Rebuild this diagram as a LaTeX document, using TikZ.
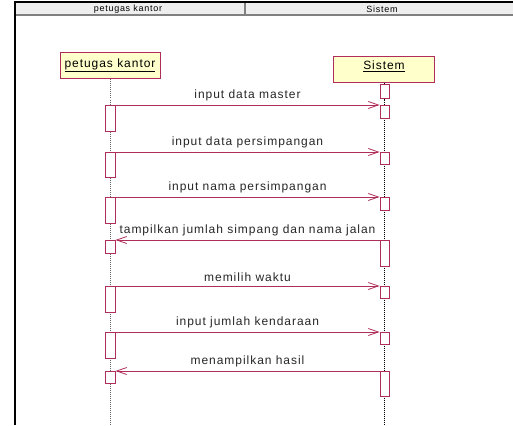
\documentclass[tikz,border=0pt]{standalone}
\usepackage{fontspec}
\setmainfont{Liberation Sans}
\newfontfamily\msgfont[LetterSpace=8]{Liberation Sans}
\usetikzlibrary{arrows.meta}
\definecolor{umlred}{RGB}{175,45,90}
\definecolor{umlfill}{RGB}{255,255,204}
\definecolor{headgray}{RGB}{238,238,238}
\begin{document}
\begin{tikzpicture}
  [x=1pt,y=-1pt,
   actor/.style={rectangle,draw=umlred,fill=umlfill,line width=1pt,minimum width=100pt,minimum height=26pt,
                 text depth=6pt,font=\msgfont\fontsize{12}{14}\selectfont},
   act/.style={rectangle,draw=umlred,fill=white,line width=1pt,minimum width=9pt,inner sep=0pt,anchor=north},
   msg/.style={draw=umlred,line width=0.8pt,-{Straight Barb[length=10pt,width=7pt]}},
   lbl/.style={font=\msgfont\fontsize{12}{14}\selectfont,above=0.5pt,text=black!85},
   lifeline/.style={densely dotted,line width=1pt}]
  \useasboundingbox (0,0) rectangle (513,425);
  % frame and header
  \fill[headgray] (15,3) rectangle (513,15);
  \draw[gray,line width=1.5pt] (15,15) -- (513,15);
  \draw[gray,line width=1.5pt] (245,3) -- (245,15);
  \draw[line width=1.5pt] (15,425) -- (15,2) -- (513,2);
  \node[font=\msgfont\fontsize{9}{10}\selectfont] (hpk) at (128,9) {petugas kantor};
  \node[font=\msgfont\fontsize{9}{10}\selectfont] (hsis) at (382,9) {Sistem};
  % actors
  \node[actor] (pk) at (110,66) {\underline{petugas kantor}};
  \node[actor,minimum width=101pt,text depth=9pt] (sis) at (384,70) {\underline{Sistem}};
  \coordinate (pkend) at (110,425);
  \coordinate (sisend) at (384,425);
  \draw[lifeline,black!60] (pk.south) -- (pkend);
  \draw[lifeline] (sis.south) -- (sisend);
  % activations
  \foreach \i/\y/\h in {1/105/26,2/152/25,3/197/26,4/240/13,5/286/26,6/332/26,7/371/12}
    \node[act,minimum width=10pt,minimum height=\h pt] (p\i) at (110,\y) {};
  \foreach \i/\y/\h in {0/84/14,1/105/13,2/152/12,3/197/13,4/240/26,5/286/12,6/332/12,7/371/25}
    \node[act,minimum height=\h pt] (s\i) at (384.5,\y) {};
  % messages
  \draw[msg] (p1.north east) -- node[lbl] {input data master} (s1.north west);
  \draw[msg] (p2.north east) -- node[lbl] {input data persimpangan} (s2.north west);
  \draw[msg] (p3.north east) -- node[lbl] {input nama persimpangan} (s3.north west);
  \draw[msg] (s4.north west) -- node[lbl] {tampilkan jumlah simpang dan nama jalan} (p4.north east);
  \draw[msg] (p5.north east) -- node[lbl] {memilih waktu} (s5.north west);
  \draw[msg] (p6.north east) -- node[lbl] {input jumlah kendaraan} (s6.north west);
  \draw[msg] (s7.north west) -- node[lbl] {menampilkan hasil} (p7.north east);
\end{tikzpicture}
\end{document}
